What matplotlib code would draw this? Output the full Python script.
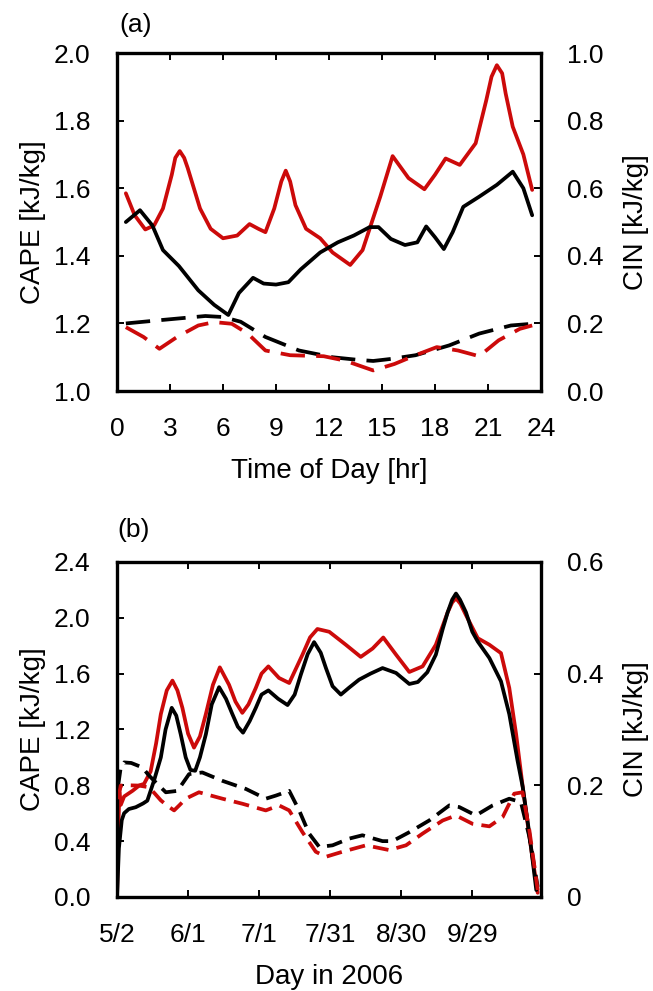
import matplotlib
matplotlib.use("Agg")
import matplotlib.pyplot as plt

plt.rcParams["font.family"] = ["Liberation Sans", "DejaVu Sans"]

RED = "#cc0a0a"

# ---- panel (a): diurnal cycle ----
hr_red = [0.5, 1.0, 1.6, 2.1, 2.6, 3.1, 3.3, 3.55, 3.8, 4.0, 4.7, 5.3, 6.0, 6.8, 7.5, 8.0, 8.4, 8.9,
          9.3, 9.55, 9.8, 10.1, 10.7, 11.5, 12.2, 13.2, 13.9, 14.9, 15.6, 16.5, 17.4, 18.0, 18.6,
          19.4, 20.3, 20.9, 21.2, 21.5, 21.8, 22.0, 22.4, 23.0, 23.5]
cape_red_a = [1.585, 1.52, 1.478, 1.49, 1.54, 1.64, 1.69, 1.71, 1.69, 1.66, 1.54, 1.48, 1.452,
              1.46, 1.494, 1.48, 1.47, 1.54, 1.62, 1.652, 1.62, 1.55, 1.48, 1.452, 1.41, 1.373,
              1.417, 1.575, 1.695, 1.63, 1.597, 1.64, 1.688, 1.669, 1.733, 1.86, 1.93, 1.964, 1.94,
              1.88, 1.782, 1.70, 1.595]

hr_blk = [0.5, 1.3, 2.0, 2.6, 3.5, 4.6, 5.5, 6.3, 6.9, 7.7, 8.3, 9.0, 9.7, 10.4, 11.5, 12.5, 13.4,
          14.3, 14.8, 15.5, 16.3, 17.0, 17.5, 18.0, 18.5, 19.0, 19.6, 20.5, 21.5, 22.4, 23.0, 23.5]
cape_blk_a = [1.50, 1.535, 1.49, 1.417, 1.37, 1.298, 1.255, 1.225, 1.29, 1.335, 1.318, 1.315, 1.322,
              1.36, 1.41, 1.44, 1.46, 1.485, 1.485, 1.45, 1.432, 1.44, 1.487, 1.455, 1.42, 1.47,
              1.545, 1.575, 1.61, 1.649, 1.60, 1.52]

hr_cin_blk = [0.5, 2.5, 5.0, 6.0, 7.0, 8.4, 10.3, 12.2, 13.5, 14.5, 15.5, 16.9, 18.8, 20.5, 22.3, 23.5]
cin_blk_a = [0.20, 0.21, 0.222, 0.219, 0.205, 0.16, 0.12, 0.10, 0.093, 0.089, 0.095, 0.106, 0.135,
             0.17, 0.194, 0.199]

hr_cin_red = [0.5, 1.5, 2.4, 3.4, 4.6, 5.5, 6.5, 7.4, 8.4, 9.8, 11.7, 12.9, 14.5, 15.7, 16.9, 18.1,
              19.3, 20.5, 21.6, 22.8, 23.5]
cin_red_a = [0.189, 0.16, 0.125, 0.16, 0.194, 0.204, 0.199, 0.17, 0.12, 0.106, 0.103, 0.09, 0.061,
             0.08, 0.106, 0.13, 0.12, 0.103, 0.15, 0.184, 0.194]

# ---- panel (b): seasonal cycle (day of year, 5/2 = 122) ----
day_red = [122.0, 122.5, 123.0, 123.6, 125.0, 128.5, 131.5, 133.4, 136.2, 138.5, 140.5, 143.0, 145.4,
           147.5, 149.6, 152.0, 154.5, 157.0, 159.5, 162.5, 165.4, 169.3, 172.0, 174.9, 177.5,
           180.6, 183.0, 185.9, 190.4, 194.7, 200.3, 203.5, 206.6, 211.6, 218.6, 224.9, 229.9,
           234.4, 239.8, 245.4, 251.0, 256.6, 261.6, 263.5, 265.1, 267.0, 269.3, 274.3, 279.2,
           284.1, 287.6, 290.5, 293.3, 296.1, 299.6]
cape_red_b = [0.0, 0.45, 0.75, 0.66, 0.72, 0.76, 0.80, 0.81, 0.90, 1.10, 1.31, 1.48, 1.55, 1.48,
              1.355, 1.17, 1.07, 1.15, 1.31, 1.52, 1.645, 1.52, 1.40, 1.319, 1.38, 1.498, 1.60,
              1.652, 1.569, 1.533, 1.736, 1.86, 1.92, 1.90, 1.807, 1.72, 1.78, 1.859, 1.736, 1.612,
              1.652, 1.807, 2.04, 2.11, 2.14, 2.10, 2.02, 1.854, 1.807, 1.747, 1.498, 1.165, 0.786,
              0.43, 0.03]

day_blk = [122.0, 122.8, 124.0, 125.0, 127.0, 129.9, 133.0, 134.8, 137.6, 140.5, 142.5, 145.1, 147.0,
           148.9, 151.0, 153.0, 155.0, 157.0, 159.5, 162.0, 165.1, 168.0, 170.7, 173.0, 175.2,
           178.0, 180.6, 183.0, 185.9, 190.0, 194.0, 197.0, 199.6, 202.5, 205.2, 208.0, 210.2,
           213.0, 216.5, 220.0, 224.2, 229.0, 234.1, 239.8, 245.4, 249.0, 253.0, 256.6, 259.5,
           261.6, 263.5, 265.1, 266.8, 269.3, 272.0, 274.3, 279.2, 284.1, 287.6, 291.1, 293.3,
           296.1, 299.0]
cape_blk_b = [0.0, 0.35, 0.55, 0.60, 0.63, 0.643, 0.67, 0.69, 0.833, 1.0, 1.2, 1.355, 1.30, 1.165,
              1.0, 0.91, 0.904, 1.00, 1.165, 1.38, 1.503, 1.42, 1.31, 1.22, 1.177, 1.26, 1.355,
              1.45, 1.48, 1.42, 1.375, 1.45, 1.593, 1.74, 1.826, 1.75, 1.64, 1.51, 1.45, 1.50,
              1.557, 1.60, 1.64, 1.605, 1.526, 1.54, 1.61, 1.736, 1.92, 2.04, 2.13, 2.174, 2.13,
              2.04, 1.90, 1.83, 1.712, 1.545, 1.31, 0.976, 0.786, 0.45, 0.05]

day_cin_blk = [122.5, 123.5, 125.0, 128.0, 132.7, 135.5, 138.4, 142.6, 147.5, 152.4, 158.0, 166.5,
               176.4, 184.8, 189.0, 194.7, 198.9, 203.1, 207.4, 213.0, 220.0, 225.6, 230.0, 234.1,
               238.3, 245.4, 253.8, 262.3, 266.5, 273.5, 280.6, 287.6, 292.5, 296.1, 299.6]
cin_blk_b = [0.20, 0.23, 0.241, 0.24, 0.232, 0.2175, 0.205, 0.1875, 0.19, 0.22, 0.223, 0.208, 0.1935,
             0.176, 0.1815, 0.19, 0.155, 0.1135, 0.0895, 0.0925, 0.1045, 0.1105, 0.105, 0.10, 0.10,
             0.116, 0.137, 0.164, 0.161, 0.146, 0.164, 0.176, 0.17, 0.1075, 0.018]

day_cin_red = [122.5, 123.55, 127.0, 131.3, 135.5, 138.0, 140.5, 143.5, 146.1, 148.5, 151.0, 156.6,
               166.5, 174.9, 184.8, 190.4, 194.7, 200.3, 205.9, 210.2, 217.2, 227.1, 236.9, 244.0,
               251.0, 259.5, 265.1, 272.1, 279.2, 284.8, 289.7, 293.2, 296.1, 299.6]
cin_red_b = [0.175, 0.1995, 0.20, 0.1995, 0.1965, 0.185, 0.173, 0.1625, 0.155, 0.165, 0.176, 0.1875,
             0.176, 0.167, 0.155, 0.164, 0.155, 0.116, 0.081, 0.072, 0.081, 0.0925, 0.084, 0.0925,
             0.1135, 0.137, 0.146, 0.131, 0.1265, 0.143, 0.185, 0.1875, 0.119, 0.0125]

day_ticks = [122, 152, 182, 212, 242, 272]
day_labels = ["5/2", "6/1", "7/1", "7/31", "8/30", "9/29"]

LW = 2.7
FS = 19


def style(ax, twin):
    for s in ax.spines.values():
        s.set_linewidth(2.4)
    ax.tick_params(direction="in", length=5, width=1.4, labelsize=FS, pad=19,
                   top=True, right=False)
    twin.tick_params(direction="in", length=5, width=1.4, labelsize=FS, pad=19)


def line(ax, x, y, color, dashes=None):
    kw = dict(color=color, lw=LW, solid_joinstyle="round", solid_capstyle="round",
              dash_joinstyle="round")
    if dashes:
        kw["dashes"] = dashes
    ax.plot(x, y, **kw)


fig = plt.figure(figsize=(6.53, 9.91), dpi=100)

# panel (a)
ax1 = fig.add_axes([0.1792, 0.6054, 0.6493, 0.3411])
ax1r = ax1.twinx()
line(ax1, hr_red, cape_red_a, RED)
line(ax1, hr_blk, cape_blk_a, "black")
line(ax1r, hr_cin_blk, cin_blk_a, "black", (6.5, 3.0))
line(ax1r, hr_cin_red, cin_red_a, RED, (6.5, 3.0))
ax1.set_xlim(0, 24)
ax1.set_ylim(1.0, 2.0)
ax1r.set_ylim(0.0, 1.0)
ax1.set_xticks(range(0, 25, 3))
ax1.set_yticks([1.0, 1.2, 1.4, 1.6, 1.8, 2.0])
ax1.set_yticklabels(["1.0", "1.2", "1.4", "1.6", "1.8", "2.0"])
ax1r.set_yticks([0.0, 0.2, 0.4, 0.6, 0.8, 1.0])
ax1r.set_yticklabels(["0.0", "0.2", "0.4", "0.6", "0.8", "1.0"])
style(ax1, ax1r)
ax1.set_xlabel("Time of Day [hr]", fontsize=FS + 1, labelpad=12)
ax1.set_ylabel("CAPE [kJ/kg]", fontsize=FS + 1, labelpad=6)
ax1r.set_ylabel("CIN [kJ/kg]", fontsize=FS + 1, labelpad=14)
fig.text(119 / 653, 1 - 25 / 991, "(a)", fontsize=FS, va="center", ha="left")

# panel (b)
ax2 = fig.add_axes([0.1792, 0.0949, 0.6493, 0.3380])
ax2r = ax2.twinx()
line(ax2, day_red, cape_red_b, RED)
line(ax2, day_blk, cape_blk_b, "black")
line(ax2r, day_cin_blk, cin_blk_b, "black", (4.2, 2.2))
line(ax2r, day_cin_red, cin_red_b, RED, (4.2, 2.2))
ax2.set_xlim(122, 301)
ax2.set_ylim(0.0, 2.4)
ax2r.set_ylim(0.0, 0.6)
ax2.set_xticks(day_ticks)
ax2.set_xticklabels(day_labels)
ax2.set_yticks([0.0, 0.4, 0.8, 1.2, 1.6, 2.0, 2.4])
ax2.set_yticklabels(["0.0", "0.4", "0.8", "1.2", "1.6", "2.0", "2.4"])
ax2r.set_yticks([0.0, 0.2, 0.4, 0.6])
ax2r.set_yticklabels(["0", "0.2", "0.4", "0.6"])
style(ax2, ax2r)
ax2.set_xlabel("Day in 2006", fontsize=FS + 1, labelpad=12)
ax2.set_ylabel("CAPE [kJ/kg]", fontsize=FS + 1, labelpad=6)
ax2r.set_ylabel("CIN [kJ/kg]", fontsize=FS + 1, labelpad=14)
fig.text(117 / 653, 1 - 530 / 991, "(b)", fontsize=FS, va="center", ha="left")

fig.savefig("out.png", dpi=100)
